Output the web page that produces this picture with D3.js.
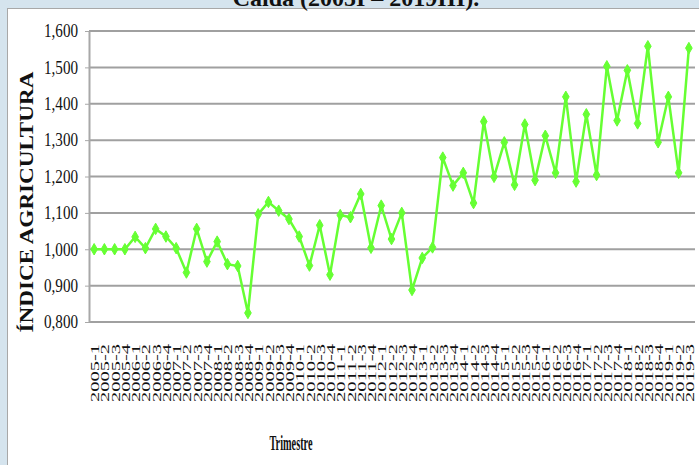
<!DOCTYPE html>
<html lang="es">
<head>
<meta charset="utf-8">
<title>Índice agricultura</title>
<script src="https://cdn.jsdelivr.net/npm/d3@7"></script>
<style>
  body { margin: 0; background: #d5e4ee; }
  svg { display: block; }
</style>
</head>
<body>
<div id="chart"></div>
<script>
    // quarters, 2005-1 .. 2019-3
    var quarters = ["2005-1","2005-2","2005-3","2005-4","2006-1","2006-2","2006-3","2006-4",
        "2007-1","2007-2","2007-3","2007-4","2008-1","2008-2","2008-3","2008-4",
        "2009-1","2009-2","2009-3","2009-4","2010-1","2010-2","2010-3","2010-4",
        "2011-1","2011-2","2011-3","2011-4","2012-1","2012-2","2012-3","2012-4",
        "2013-1","2013-2","2013-3","2013-4","2014-1","2014-2","2014-3","2014-4",
        "2015-1","2015-2","2015-3","2015-4","2016-1","2016-2","2016-3","2016-4",
        "2017-1","2017-2","2017-3","2017-4","2018-1","2018-2","2018-3","2018-4",
        "2019-1","2019-2","2019-3"];

    var indice = [1.000,1.000,1.000,1.000,1.034,1.003,1.056,1.035,
        1.003,0.936,1.056,0.966,1.021,0.959,0.954,0.825,
        1.096,1.130,1.106,1.083,1.035,0.955,1.066,0.930,
        1.094,1.088,1.152,1.004,1.120,1.028,1.100,0.888,
        0.976,1.005,1.252,1.175,1.210,1.127,1.351,1.199,
        1.294,1.177,1.343,1.190,1.312,1.210,1.419,1.186,
        1.371,1.204,1.503,1.354,1.492,1.346,1.558,1.294,
        1.419,1.210,1.553];

    var yTicks = [0.8, 0.9, 1.0, 1.1, 1.2, 1.3, 1.4, 1.5, 1.6];

    var w = 699;
    var h = 465;
    var plotLeft = 89, plotRight = 695, plotTop = 31, plotBottom = 322;
    var green = "#66ff33";
    var serif = "'Liberation Serif', 'Times New Roman', serif";

    var svg = d3.select("#chart")
        .append("svg")
        .attr("width", w)
        .attr("height", h);

    // white panel
    svg.append("rect")
        .attr("x", 7.5)
        .attr("y", 8.5)
        .attr("width", w)
        .attr("height", h)
        .attr("fill", "#fff")
        .attr("stroke", "#a8a8a8");

    // title, cut by the top edge like in the original
    svg.append("text")
        .attr("x", 356)
        .attr("y", 6)
        .attr("text-anchor", "middle")
        .attr("font-family", serif)
        .attr("font-weight", "bold")
        .attr("font-size", 24)
        .attr("fill", "#111")
        .text("Caída (2005I – 2019III).");

    var xScale = d3.scalePoint()
        .domain(quarters)
        .range([plotLeft, plotRight - 1])
        .padding(0.5);

    var yScale = d3.scaleLinear()
        .domain([0.8, 1.6])
        .range([plotBottom, plotTop]);

    // grid lines
    svg.append("g")
        .selectAll("line")
        .data(yTicks)
        .enter()
        .append("line")
        .attr("x1", plotLeft)
        .attr("x2", plotRight)
        .attr("y1", function (d) { return yScale(d); })
        .attr("y2", function (d) { return yScale(d); })
        .attr("stroke", "#a0a0a0")
        .attr("stroke-width", 2);

    var yAxis = d3.axisLeft(yScale)
        .tickValues(yTicks)
        .tickSize(4)
        .tickSizeOuter(0)
        .tickFormat(function (d) { return d3.format(".3f")(d).replace(".", ","); });

    var gy = svg.append("g")
        .attr("transform", "translate(" + plotLeft + ",0)")
        .call(yAxis);
    gy.select(".domain").attr("stroke", "#a8a8a8").attr("stroke-width", 2);
    gy.selectAll(".tick line").attr("stroke", "#a8a8a8");
    gy.selectAll(".tick text")
        .attr("x", -11)
        .attr("font-family", serif)
        .attr("font-size", 18)
        .attr("fill", "#111")
        .attr("textLength", 34)
        .attr("lengthAdjust", "spacingAndGlyphs");

    var xAxis = d3.axisBottom(xScale).tickSize(0).tickSizeOuter(0);

    var gx = svg.append("g")
        .attr("transform", "translate(0," + plotBottom + ")")
        .call(xAxis);
    gx.select(".domain").remove();
    gx.selectAll(".tick text")
        .attr("transform", "rotate(-90)")
        .attr("text-anchor", "end")
        .attr("x", -22)
        .attr("y", 0)
        .attr("dy", "0.35em")
        .attr("font-family", serif)
        .attr("font-size", 13)
        .attr("fill", "#111")
        .attr("textLength", 58)
        .attr("lengthAdjust", "spacingAndGlyphs");

    // series
    var line = d3.line()
        .x(function (d, i) { return xScale(quarters[i]); })
        .y(function (d) { return yScale(d); });

    svg.append("path")
        .datum(indice)
        .attr("d", line)
        .attr("fill", "none")
        .attr("stroke", green)
        .attr("stroke-width", 2.5);

    svg.append("g")
        .selectAll("path")
        .data(indice)
        .enter()
        .append("path")
        .attr("d", d3.symbol().type(d3.symbolDiamond).size(38))
        .attr("transform", function (d, i) {
            return "translate(" + xScale(quarters[i]) + "," + yScale(d) + ")";
        })
        .attr("fill", green)
        .attr("stroke", green)
        .attr("stroke-width", 1);

    // axis titles
    svg.append("text")
        .attr("transform", "translate(33,202)rotate(-90)")
        .attr("text-anchor", "middle")
        .attr("font-family", serif)
        .attr("font-weight", "bold")
        .attr("font-size", 18)
        .attr("fill", "#111")
        .attr("textLength", 261)
        .attr("lengthAdjust", "spacingAndGlyphs")
        .text("ÍNDICE  AGRICULTURA");

    svg.append("text")
        .attr("x", 291)
        .attr("y", 450)
        .attr("text-anchor", "middle")
        .attr("font-family", serif)
        .attr("font-weight", "bold")
        .attr("font-size", 21)
        .attr("fill", "#111")
        .attr("textLength", 43)
        .attr("lengthAdjust", "spacingAndGlyphs")
        .text("Trimestre");
</script>
</body>
</html>
